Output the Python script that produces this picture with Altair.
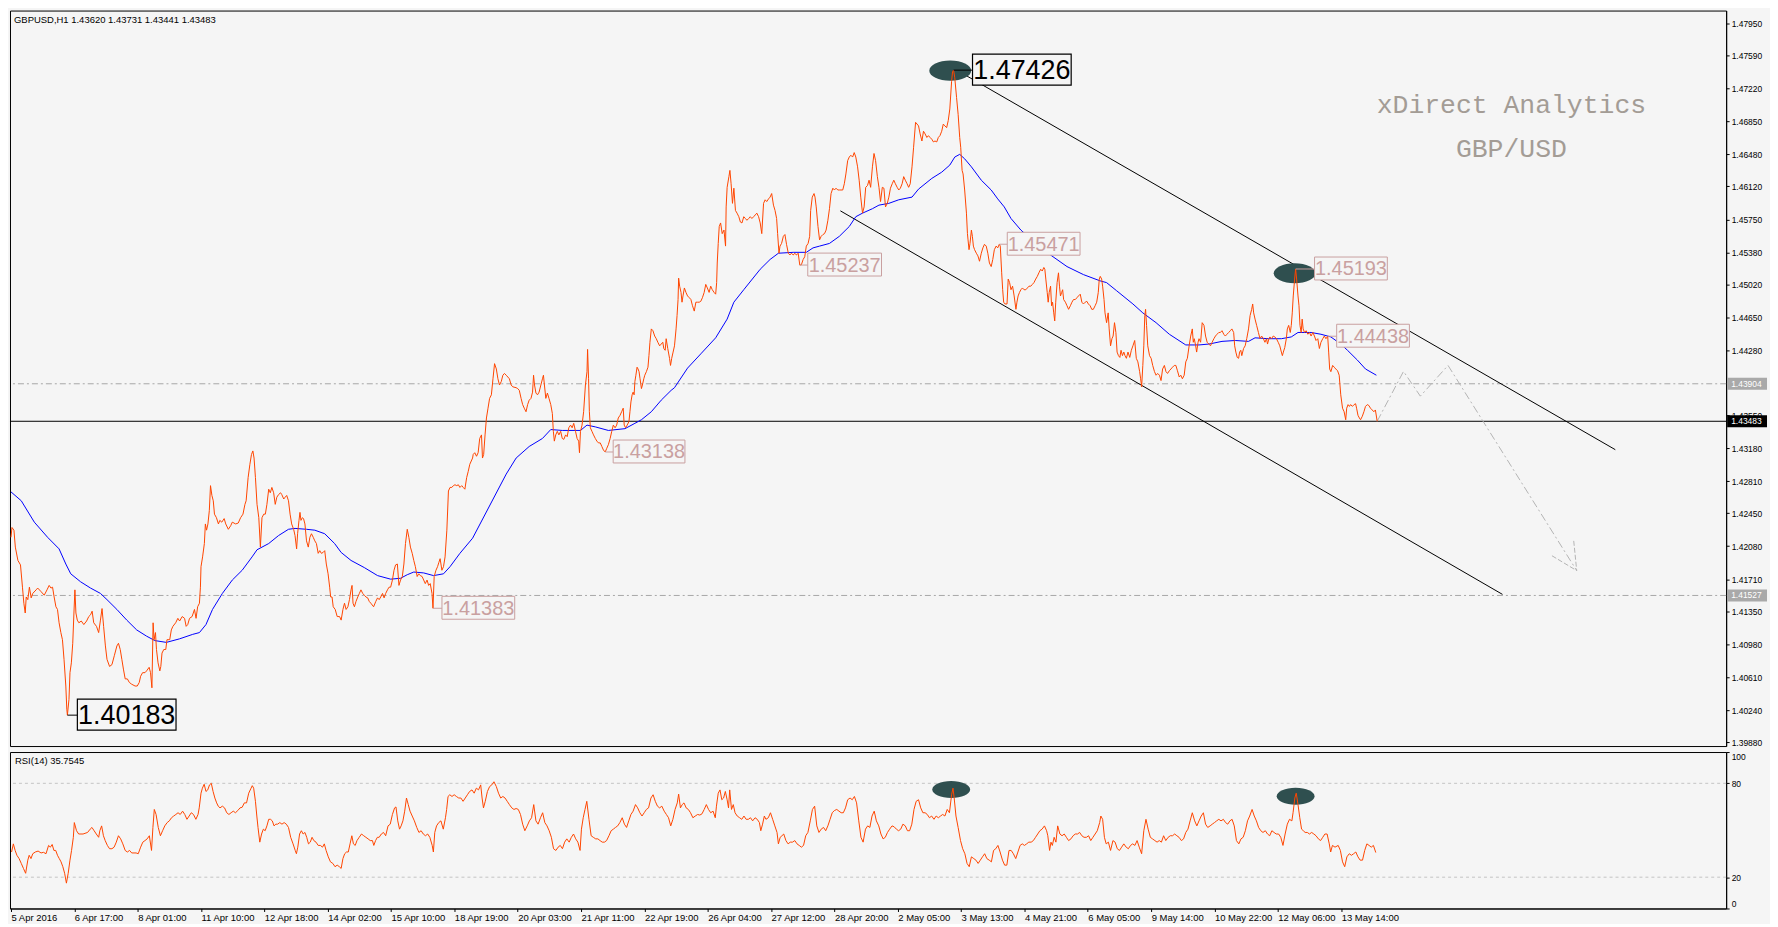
import json
import altair as alt
import pandas as pd

# ---------------- data (bar index = hourly bar number, price) ----------------
price_seg1 = [(-1,1.4218),(-0.5,1.4229),(0.5,1.4226),(1.2,1.4207),(2.5,1.4192),(3.8,1.4187),(4.8,1.4162),(5.5,1.4144),(6.2,1.4133),(6.7,1.4151),(7.5,1.4148),(8.3,1.4162),(9.2,1.4150),(10.0,1.4155),(11.7,1.4159),(12.5,1.4161),(14.2,1.4157),(15.8,1.4153),(17.2,1.4159),(18.3,1.4164),(19.2,1.4161),(20.0,1.4162),(20.8,1.4151),(21.7,1.4140),(22.5,1.4137),(23.3,1.4122),(24.2,1.4111),(25.0,1.4103),(25.8,1.4081),(26.7,1.4051),(27.2,1.4025),(27.5,1.40183),(28.3,1.4036),(28.8,1.4066),(29.5,1.4077),(30.2,1.4099),(30.8,1.4133),(31.3,1.4159),(31.8,1.4133),(32.5,1.4125),(33.3,1.4122),(34.5,1.4124),(35.8,1.4120),(37.2,1.4124),(38.3,1.4129),(39.2,1.4131),(40.0,1.4135),(40.8,1.4122),(42.2,1.4118),(43.3,1.4111),(44.2,1.4125),(45.0,1.4138),(45.8,1.4118),(46.7,1.4096),(47.5,1.4081),(48.8,1.4073),(50.0,1.4075),(51.2,1.4085),(52.5,1.4096),(53.3,1.4099),(54.2,1.4092),(55.0,1.4081),(55.8,1.4070),(56.7,1.4059),(57.8,1.4059),(58.8,1.4055),(60.0,1.4053),(61.7,1.4051),(62.8,1.4051),(63.8,1.4055),(64.5,1.4062),(65.5,1.4066),(66.7,1.4066),(67.5,1.4068),(68.8,1.4072),(69.5,1.4066),(70.2,1.4049),(70.8,1.4122),(71.3,1.4103),(72.0,1.4111),(72.5,1.4092),(73.3,1.4077),(74.2,1.4068),(74.7,1.4073),(75.3,1.4088),(76.2,1.4092),(77.2,1.4092),(77.8,1.4103),(79.2,1.4103),(80.0,1.4114),(80.8,1.4118),(82.2,1.4122),(83.3,1.4127),(84.2,1.4124),(85.5,1.4129),(86.7,1.4127),(87.5,1.4118),(88.3,1.4120),(89.2,1.4127),(90.5,1.4129),(91.7,1.4137),(92.5,1.4127),(93.3,1.4140),(94.2,1.4144),(94.7,1.4162),(95.0,1.4185),(95.8,1.4196),(96.7,1.4211),(97.2,1.4233),(97.8,1.4226),(98.5,1.4233),(99.2,1.4248),(99.8,1.4276),(100.5,1.4265),(101.2,1.4259),(101.8,1.4244),(102.8,1.4240),(103.8,1.4233),(104.5,1.4237),(105.5,1.4235),(106.7,1.4239),(107.5,1.4233),(108.8,1.4227),(110.0,1.4231),(110.8,1.4235),(112.5,1.4233),(113.8,1.4234),(115.0,1.4240),(116.2,1.4244),(117.2,1.4255),(117.8,1.4259),(118.8,1.4285),(119.7,1.4300),(120.5,1.4311),(121.2,1.4315),(121.8,1.4307),(122.5,1.4285),(123.3,1.4255),(124.2,1.4240),(125.0,1.4207),(125.8,1.4240),(126.7,1.4244),(127.5,1.4244),(128.3,1.4255),(129.2,1.4272),(130.0,1.4268),(130.8,1.4274),(131.7,1.4268),(132.5,1.4255),(133.3,1.4263),(134.2,1.4266),(135.2,1.4268),(135.8,1.4266),(136.8,1.4261),(137.5,1.4263),(138.3,1.4265),(139.2,1.4259),(140.0,1.4244),(140.8,1.4233),(141.8,1.4227),(142.5,1.4220),(143.3,1.4205),(143.8,1.4222),(144.5,1.4237),(145.0,1.4246),(145.5,1.4237),(146.2,1.4240),(146.8,1.4239),(147.5,1.4233),(148.3,1.4214),(149.2,1.4207),(150.0,1.4218),(150.8,1.4222),(151.7,1.4218),(152.5,1.4214),(153.3,1.4211),(154.2,1.4200),(155.0,1.4203),(155.8,1.4200),(156.7,1.4201),(157.5,1.4203),(158.3,1.4188),(159.2,1.4177),(160.0,1.4162),(160.5,1.4151),(161.2,1.4151),(161.8,1.4140),(162.8,1.4137),(163.8,1.4129),(165.0,1.4129),(165.8,1.4125),(166.7,1.4137),(167.5,1.4144),(168.3,1.4137),(169.2,1.4140),(170.0,1.4148),(170.8,1.4159),(171.3,1.4164),(171.8,1.4144),(172.5,1.4140),(173.3,1.4146),(174.2,1.4151),(175.0,1.4155),(175.8,1.4159),(176.7,1.4155),(177.5,1.4153),(178.3,1.4151),(179.2,1.4150),(180.0,1.4146),(180.8,1.4144),(182.2,1.4140),(183.3,1.4146),(184.2,1.4150),(185.0,1.4148),(185.8,1.4151),(186.7,1.4155),(187.5,1.4150),(188.3,1.4155),(189.2,1.4159),(190.0,1.4162),(190.8,1.4162),(191.7,1.4170),(192.5,1.4181),(193.3,1.4187),(194.2,1.4188),(195.0,1.4164),(195.8,1.4170),(196.7,1.4174),(197.5,1.4188),(198.3,1.4211),(199.2,1.4227),(200.0,1.4218),(200.8,1.4207),(201.7,1.4200),(202.5,1.4192),(203.3,1.4185),(204.2,1.4174),(205.0,1.4177),(205.8,1.4175),(206.7,1.4174),(207.5,1.4170),(208.3,1.4166),(209.2,1.4170),(210.0,1.4164),(210.8,1.4166),(211.7,1.4155),(212.2,1.41383),(212.8,1.4174),(213.7,1.4181),(214.5,1.4185),(215.2,1.4190),(215.8,1.4194),(216.7,1.4181),(217.5,1.4185),(218.3,1.4196),(219.2,1.4226),(220.0,1.4270),(220.8,1.4274),(221.7,1.4274),(222.5,1.4276),(223.3,1.4277),(224.2,1.4276),(225.0,1.4277),(225.8,1.4274),(226.7,1.4276),(227.5,1.4274),(228.3,1.4272),(229.2,1.4285),(230.0,1.4292),(230.8,1.4300),(232.2,1.4307)]

price_seg2 = [(232.5,1.4311),(233.3,1.4313),(234.2,1.4309),(235.0,1.4313),(235.8,1.4329),(236.7,1.4333),(237.2,1.4307),(237.8,1.4311),(238.5,1.4333),(239.2,1.4352),(240.0,1.4363),(240.8,1.4374),(241.7,1.4378),(242.5,1.4396),(243.3,1.4413),(244.2,1.4407),(245.0,1.4396),(245.8,1.4389),(246.7,1.4393),(247.5,1.4400),(248.3,1.4402),(249.2,1.4400),(250.0,1.4398),(250.8,1.4396),(251.7,1.4389),(252.5,1.4387),(254.2,1.4386),(255.0,1.4385),(255.8,1.4383),(256.7,1.4374),(257.5,1.4367),(258.3,1.4363),(259.2,1.4359),(260.0,1.4367),(260.8,1.4372),(261.7,1.4374),(262.5,1.4381),(263.0,1.4400),(263.5,1.4389),(264.2,1.4380),(265.0,1.4378),(265.8,1.4381),(266.7,1.4389),(267.5,1.4396),(268.0,1.4400),(268.5,1.4389),(269.2,1.4374),(270.0,1.4380),(270.8,1.4374),(271.7,1.4367),(272.5,1.4357),(273.0,1.4337),(273.5,1.4326),(274.2,1.4333),(275.0,1.4337),(275.8,1.4333),(276.7,1.4337),(277.5,1.4329),(278.3,1.4328),(279.2,1.4333),(280.0,1.4331),(280.8,1.4341),(281.7,1.4344),(282.5,1.4341),(283.3,1.4346),(284.2,1.4337),(285.0,1.4329),(285.8,1.4326),(286.2,1.4313),(286.7,1.4337),(287.5,1.4344),(288.3,1.4359),(289.2,1.4389),(290.0,1.4404),(290.3,1.4429),(290.8,1.4396),(291.2,1.4359),(291.7,1.4341),(292.5,1.4337),(293.3,1.4333),(294.2,1.4329),(295.0,1.4326),(295.8,1.4324),(296.7,1.4324),(297.5,1.4320),(298.3,1.4316),(299.2,1.43138),(300.0,1.4318),(300.8,1.4322),(301.7,1.4329),(302.5,1.4337),(303.3,1.4344),(304.2,1.4341),(305.0,1.4344),(305.8,1.4352),(306.7,1.4355),(307.5,1.4359),(308.3,1.4363),(308.8,1.4344),(309.5,1.4341),(310.3,1.4344),(311.2,1.4348),(311.7,1.4359),(312.2,1.4370),(312.8,1.4378),(313.3,1.4381),(313.8,1.4378),(314.2,1.4393),(314.7,1.4400),(315.3,1.4409),(315.8,1.4407),(316.3,1.4404),(316.8,1.4396),(317.5,1.4385),(318.0,1.4389),(318.7,1.4396),(319.2,1.4400),(320.0,1.4404),(320.8,1.4409),(321.3,1.4422),(321.8,1.4437),(322.5,1.4452),(323.3,1.4450),(324.2,1.4444),(325.0,1.4441),(325.8,1.4437),(326.7,1.4433),(327.5,1.4435),(328.3,1.4437),(328.8,1.4430),(329.5,1.4428),(330.0,1.4441),(330.8,1.4430),(331.7,1.4419),(332.2,1.4411),(332.8,1.4419),(333.5,1.4426),(334.2,1.4433),(335.0,1.4452),(335.5,1.4467),(336.0,1.4485),(336.3,1.4509),(336.8,1.4500),(337.5,1.4493),(338.0,1.4482),(338.5,1.4489),(339.2,1.4498),(340.0,1.4493),(340.8,1.4489),(341.7,1.4487),(342.5,1.4485),(343.3,1.4478),(344.2,1.4472),(345.0,1.4482),(345.8,1.4482),(346.7,1.4482),(347.5,1.4483),(348.3,1.4487),(349.2,1.4493),(350.0,1.4502),(350.8,1.4498),(351.7,1.4493),(352.5,1.4500),(353.3,1.4496),(354.2,1.4493),(355.0,1.4491),(355.5,1.4504),(355.8,1.4526),(356.3,1.4548),(356.8,1.4567),(357.5,1.4571),(358.3,1.4559),(359.2,1.4563),(360.0,1.4545),(360.3,1.4589),(360.8,1.4611),(361.7,1.4623),(362.2,1.4630),(362.8,1.4615),(363.5,1.4593),(364.2,1.4610),(365.0,1.4585),(365.8,1.4582),(366.7,1.4578),(367.5,1.4572),(368.3,1.4571),(369.2,1.4578),(370.0,1.4576),(370.8,1.4574),(371.7,1.4576),(372.5,1.4578),(373.3,1.4576),(374.2,1.4578),(375.0,1.4580),(375.8,1.4582),(376.7,1.4578),(377.5,1.4571),(378.3,1.4559),(379.2,1.4593),(380.0,1.4597),(380.8,1.4595),(381.7,1.4598),(382.5,1.4600),(383.3,1.4604),(384.2,1.4591),(385.0,1.4585),(385.8,1.4576),(386.3,1.4559),(387.0,1.4537),(387.5,1.4545),(388.3,1.4548),(389.2,1.4556),(390.0,1.4558),(390.8,1.4547),(391.7,1.4537),(392.5,1.4535),(393.3,1.4537),(394.2,1.4535),(395.0,1.4537),(395.8,1.4535),(396.7,1.4537),(397.5,1.45237),(398.3,1.4524),(399.2,1.4530),(400.0,1.4533),(400.8,1.4545),(401.7,1.4548),(402.5,1.4556),(403.0,1.4585),(403.8,1.4600),(404.7,1.4604),(405.2,1.4600),(405.8,1.4589),(406.7,1.4567),(407.5,1.4552),(408.3,1.4556),(409.2,1.4558),(410.0,1.4559),(410.8,1.4563),(411.7,1.4574),(412.5,1.4587),(413.3,1.4604),(414.2,1.4610),(415.0,1.4608),(415.8,1.4610),(416.7,1.4608),(417.5,1.4608),(418.3,1.4608),(419.2,1.4608),(420.0,1.4615),(420.8,1.4626),(421.7,1.4641),(422.5,1.4645),(423.3,1.4647),(424.2,1.4645),(425.0,1.4650),(425.8,1.4645),(426.7,1.4634),(427.5,1.4619),(428.3,1.4600),(429.2,1.4582),(430.0,1.4589),(430.8,1.4611),(431.7,1.4613),(432.5,1.4619),(433.3,1.4611),(434.2,1.4634),(435.0,1.4649),(435.8,1.4641),(436.7,1.4623),(437.5,1.4611),(438.3,1.4595),(439.2,1.4611),(440.0,1.4610),(440.8,1.4589),(441.7,1.4593),(442.5,1.4600),(443.3,1.4610),(444.2,1.4615),(445.0,1.4619),(445.8,1.4615),(446.7,1.4611),(447.5,1.4608),(448.3,1.4610),(449.2,1.4615),(450.0,1.4623),(450.8,1.4619),(451.7,1.4615),(452.5,1.4611),(453.3,1.4615),(454.2,1.4634),(455.0,1.4656),(456.0,1.4684)]

price_seg3 = [(457.5,1.4680),(458.3,1.4671),(459.2,1.4663),(460.0,1.4674),(460.8,1.4671),(461.7,1.4667),(462.5,1.4669),(463.3,1.4667),(464.2,1.4665),(465.0,1.4662),(465.8,1.4663),(466.7,1.4662),(467.5,1.4667),(468.3,1.4669),(469.2,1.4674),(470.0,1.4682),(470.8,1.4680),(471.7,1.4678),(472.5,1.4686),(473.3,1.4699),(474.2,1.4730),(474.7,1.4741),(475.2,1.47426),(475.8,1.4734),(476.7,1.4712),(477.5,1.4693),(478.3,1.4667),(478.8,1.4656),(479.5,1.4630),(480.0,1.4626),(480.8,1.4608),(481.7,1.4582),(482.2,1.4559),(482.5,1.4552),(483.0,1.4541),(483.5,1.4548),(484.2,1.4563),(484.7,1.4556),(485.2,1.4545),(485.8,1.4541),(486.7,1.4537),(487.5,1.4534),(488.3,1.4528),(489.2,1.4537),(490.0,1.4543),(490.8,1.4547),(491.7,1.4545),(492.5,1.4537),(493.3,1.4526),(494.2,1.4522),(495.0,1.4530),(495.8,1.4541),(496.7,1.4545),(497.5,1.4543),(498.3,1.45471),(498.8,1.4545),(499.5,1.4515),(500.0,1.4496),(500.5,1.4482),(501.2,1.4480),(502.2,1.4480),(502.8,1.4508),(503.5,1.4504),(504.2,1.4496),(505.0,1.4500),(505.8,1.4489),(506.7,1.4474),(507.2,1.4482),(507.8,1.4489),(508.5,1.4493),(509.2,1.4496),(510.0,1.4498),(510.8,1.4496),(511.7,1.4496),(512.5,1.4498),(513.3,1.4500),(514.2,1.4500),(515.0,1.4502),(515.8,1.4504),(516.7,1.4508),(517.5,1.4511),(518.3,1.4515),(519.2,1.4519),(520.0,1.4517),(520.8,1.4521),(521.3,1.4519),(521.8,1.4508),(522.5,1.4493),(523.0,1.4482),(523.5,1.4493),(524.2,1.4500),(524.7,1.4478),(525.2,1.4482),(525.8,1.4470),(526.3,1.4461),(526.8,1.4482),(527.5,1.4504),(528.2,1.4515),(528.7,1.4500),(529.2,1.4489),(529.8,1.4493),(530.3,1.4496),(530.8,1.4485),(531.7,1.4482),(532.5,1.4478),(533.3,1.4474),(534.2,1.4478),(535.0,1.4482),(535.8,1.4485),(536.7,1.4485),(537.5,1.4487),(538.3,1.4489),(539.2,1.4491),(540.0,1.4482),(540.8,1.4480),(541.7,1.4482),(542.5,1.4483),(543.3,1.4480),(544.2,1.4478),(545.0,1.4474),(545.8,1.4474),(546.7,1.4478),(547.5,1.4482),(548.3,1.4493),(548.8,1.4508),(549.3,1.4511),(550.0,1.4508),(550.5,1.4500),(551.2,1.4485),(551.7,1.4470),(552.5,1.4459),(553.3,1.4470),(553.8,1.4452),(554.5,1.4433),(555.2,1.4441),(555.8,1.4444),(556.5,1.4459),(557.2,1.4448),(557.8,1.4426),(558.5,1.4422),(559.2,1.4420),(559.8,1.4428),(560.5,1.4422),(561.2,1.4426),(561.8,1.4422),(562.5,1.4419),(563.3,1.4426),(564.2,1.4420),(565.0,1.4428),(565.8,1.4433),(566.7,1.4439),(567.5,1.4419),(568.3,1.4415),(569.2,1.4404),(569.7,1.4396),(570.2,1.4387),(570.8,1.4411),(571.3,1.4433),(571.8,1.4467),(572.2,1.4474),(572.7,1.4456),(573.3,1.4433),(574.2,1.4422),(575.0,1.4419),(575.8,1.4411),(576.7,1.4404),(577.5,1.4400),(578.3,1.4402),(579.2,1.4400),(580.0,1.4394),(580.8,1.4407),(581.7,1.4411),(582.5,1.4404),(583.3,1.4402),(584.2,1.4405),(585.0,1.4407),(585.8,1.4409),(586.7,1.4411),(587.5,1.4411),(588.3,1.4405),(589.2,1.4398),(590.0,1.4400),(590.8,1.4396),(591.7,1.4400),(592.5,1.4415),(593.3,1.4419),(594.2,1.4433),(595.0,1.4444),(595.8,1.4452),(596.3,1.4437),(596.8,1.4441),(597.5,1.4433),(598.0,1.4426),(598.7,1.4437),(599.2,1.4441),(600.0,1.4437),(600.8,1.4459),(601.7,1.4456),(602.5,1.4444),(603.3,1.4437),(604.2,1.4435),(605.0,1.4433),(605.8,1.4437),(606.7,1.4441),(607.5,1.4444),(608.3,1.4446),(609.2,1.4448),(610.0,1.4448),(610.8,1.4450),(611.7,1.4446),(612.5,1.4444),(613.3,1.4446),(614.2,1.4448),(615.0,1.4450),(615.8,1.4452),(616.7,1.4448),(617.2,1.4433),(617.8,1.4426),(618.5,1.4420),(619.2,1.4419),(619.7,1.4426),(620.3,1.4428),(620.8,1.4422),(621.7,1.4430),(622.5,1.4433),(623.3,1.4441),(624.2,1.4452),(625.0,1.4467),(625.8,1.4474),(626.3,1.4480),(626.8,1.4470),(627.5,1.4463),(628.3,1.4456),(629.2,1.4448),(630.0,1.4441),(630.8,1.4444),(631.7,1.4441),(632.5,1.4437),(633.3,1.4441),(633.8,1.4435),(634.5,1.4441),(635.0,1.4443),(635.8,1.4441),(636.7,1.4444),(637.5,1.4443),(638.3,1.4441),(639.2,1.4437),(640.0,1.4433),(640.8,1.4426),(641.3,1.4422),(641.8,1.4426),(642.5,1.4431),(643.3,1.4441),(643.8,1.4452),(644.5,1.4456),(645.3,1.4448),(645.8,1.4456),(646.3,1.4470),(646.8,1.4489),(647.5,1.4508),(648.0,1.45193),(648.5,1.4508),(649.2,1.4489),(649.7,1.4478),(650.2,1.4456),(650.8,1.4448),(651.3,1.4463),(651.8,1.4452),(652.5,1.4448),(653.3,1.4450),(654.2,1.4446),(655.0,1.4448),(655.8,1.4444),(656.7,1.4448),(657.5,1.4444),(658.3,1.4439),(659.2,1.4441),(660.0,1.4430),(660.8,1.4437),(661.7,1.4441),(662.5,1.4444),(663.3,1.4441),(664.2,1.44438),(664.7,1.4426),(665.2,1.4407),(665.8,1.4404),(666.7,1.4411),(667.5,1.4409),(668.3,1.4407),(669.2,1.4405),(670.0,1.4400),(670.8,1.4378),(671.7,1.4363),(672.5,1.4359),(673.3,1.4350),(673.8,1.4363),(674.5,1.4367),(675.2,1.4365),(675.8,1.4367),(676.7,1.4365),(677.5,1.4367),(678.3,1.4368),(678.8,1.4363),(679.5,1.4355),(680.2,1.4352),(680.8,1.4350),(681.7,1.4354),(682.5,1.4359),(683.3,1.4365),(684.2,1.4367),(685.0,1.4366),(685.8,1.4363),(686.7,1.4361),(687.5,1.4359),(688.3,1.4361),(689.2,1.43483)]

ma_points = [(-1,1.4269),(4.2,1.4259),(10.8,1.4235),(17.5,1.4218),(23.3,1.4205),(26.7,1.4188),(29.2,1.4177),(34.2,1.4168),(39.2,1.4161),(44.2,1.4155),(47.5,1.4148),(52.5,1.4137),(57.5,1.4125),(62.5,1.4114),(67.5,1.4107),(71.7,1.4102),(77.5,1.4100),(84.2,1.4104),(90.8,1.4109),(94.2,1.4111),(97.5,1.4120),(100.8,1.4137),(105.8,1.4155),(110.8,1.4170),(115.8,1.4181),(120.8,1.4196),(123.3,1.4204),(129.2,1.4211),(134.2,1.4220),(139.2,1.4227),(142.5,1.4228),(148.3,1.4227),(152.5,1.4226),(157.5,1.4222),(162.5,1.4211),(165.8,1.4201),(170.8,1.4192),(177.5,1.4184),(184.2,1.4175),(190.8,1.4171),(195.8,1.4172),(199.2,1.4176),(202.5,1.4179),(207.5,1.4178),(212.5,1.4175),(217.5,1.4177),(220.8,1.4185),(225.8,1.4200),(232.2,1.4217),(249.2,1.4289),(254.2,1.4307),(260.8,1.4320),(267.5,1.4329),(271.7,1.4339),(277.5,1.4338),(286.7,1.4338),(290.0,1.4344),(294.2,1.4342),(300.8,1.4338),(309.2,1.4340),(314.2,1.4346),(317.5,1.4350),(322.5,1.4359),(327.5,1.4372),(332.5,1.4383),(334.2,1.4386),(340.8,1.4408),(347.5,1.4424),(355.0,1.4442),(360.8,1.4463),(364.2,1.4482),(369.2,1.4496),(377.5,1.4519),(382.5,1.4530),(386.7,1.4537),(394.2,1.4538),(400.8,1.4538),(404.2,1.4543),(407.5,1.4545),(412.5,1.4548),(417.5,1.4556),(422.5,1.4567),(425.8,1.4578),(429.2,1.4582),(434.2,1.4587),(437.5,1.4591),(442.5,1.4593),(447.5,1.4597),(454.2,1.4600),(457.5,1.4609),(464.2,1.4621),(469.2,1.4628),(473.3,1.4636),(475.8,1.4645),(478.3,1.4648),(480.8,1.4643),(484.2,1.4634),(489.2,1.4619),(494.2,1.4608),(497.5,1.4598),(500.8,1.4589),(504.2,1.4576),(509.2,1.4563),(515.8,1.4550),(524.2,1.4535),(532.5,1.4522),(540.8,1.4513),(549.2,1.4506),(552.5,1.4504),(557.5,1.4495),(565.8,1.4480),(570.8,1.4470),(577.5,1.4459),(584.2,1.4446),(592.5,1.4434),(599.2,1.4434),(604.2,1.4435),(610.8,1.4438),(617.5,1.4439),(624.2,1.4438),(627.5,1.4442),(634.2,1.4441),(640.8,1.4441),(645.8,1.4443),(649.2,1.4448),(655.8,1.4448),(660.8,1.4446),(665.8,1.4443),(670.8,1.4435),(674.2,1.4428),(679.2,1.4417),(683.3,1.4407),(688.8,1.4400)]

rsi_seg1 = [(-0.7,36.1),(0.2,41.3),(1.1,37.1),(2.0,34.0),(3.1,31.9),(4.2,28.8),(5.3,25.6),(6.4,22.5),(7.5,30.9),(8.2,34.0),(9.1,31.9),(10.0,35.0),(11.3,36.1),(12.7,36.7),(14.2,35.5),(15.4,35.9),(16.7,35.0),(18.0,40.3),(18.9,39.2),(19.8,40.9),(20.7,37.1),(21.6,37.1),(22.5,34.0),(23.4,31.9),(24.3,29.8),(25.2,26.7),(26.1,22.5),(27.0,16.2),(27.9,22.5),(28.8,30.9),(29.6,37.1),(30.5,45.5),(31.0,54.9),(32.1,49.7),(33.2,47.6),(35.4,47.6),(37.7,48.6),(39.0,50.7),(39.9,51.8),(41.0,49.7),(42.1,47.6),(43.3,45.5),(43.9,49.7),(44.8,52.8),(45.7,46.5),(46.6,43.4),(47.7,40.3),(48.8,38.2),(50.0,38.2),(51.1,39.2),(52.2,42.4),(53.3,46.5),(54.4,44.5),(55.5,41.3),(56.7,37.1),(57.8,36.1),(58.9,37.1),(60.0,35.5),(62.2,35.5),(63.3,35.0),(64.5,39.2),(65.6,42.4),(66.7,43.4),(67.8,44.5),(68.9,46.5),(70.0,37.1),(70.7,51.8),(71.4,63.3),(72.3,60.1),(73.4,51.8),(74.5,46.5),(75.6,49.7),(76.7,52.8),(77.9,54.9),(79.0,56.0),(80.1,58.0),(81.2,59.1),(82.3,60.1),(83.4,61.2),(84.5,60.1),(85.7,62.2),(86.8,60.1),(87.9,57.0),(89.0,59.1),(90.1,61.2),(91.2,60.1),(92.4,57.0),(93.5,60.1),(94.1,64.3),(95.0,73.7),(95.7,76.9),(96.6,79.4),(97.5,74.8),(98.4,75.8),(99.3,79.0),(100.2,80.0),(101.1,74.8),(102.0,70.6),(102.9,67.5),(103.7,65.4),(104.6,64.3),(105.8,65.4),(106.9,64.3),(108.0,61.2),(109.1,60.1),(110.2,61.2),(111.3,62.2),(112.4,61.2),(113.6,62.6),(114.7,64.3),(115.8,64.7),(116.9,67.5),(118.0,67.5),(119.1,73.7),(120.3,76.9),(120.9,78.5),(121.6,76.9),(122.5,68.5),(123.2,59.1),(123.8,51.8),(124.7,42.4),(125.6,47.6),(126.5,50.7),(127.4,49.7),(128.3,52.8),(129.2,57.0),(130.1,57.0),(131.0,56.0),(131.9,52.8),(132.8,53.9),(133.7,53.9),(134.8,54.9),(135.9,53.9),(137.0,54.9),(138.1,53.9),(139.2,51.8),(140.3,45.5),(141.5,41.3),(142.6,37.1),(143.2,35.0),(143.9,39.2),(144.8,47.6),(145.7,49.7),(146.6,47.6),(147.5,48.6),(148.4,45.5),(149.3,41.3),(150.2,42.4),(151.1,45.5),(152.0,43.4),(153.1,42.4),(154.2,40.3),(155.3,40.3),(156.4,39.2),(157.3,41.3),(158.2,37.1),(159.3,33.0),(160.4,29.8),(161.6,28.8),(162.7,26.7),(163.8,27.7),(164.9,26.7),(165.8,25.6),(166.7,31.9),(167.6,35.0),(168.5,36.1),(169.4,36.1),(170.3,41.3),(171.2,46.5),(172.0,41.3),(172.9,40.3),(173.8,43.4),(174.9,45.5),(176.1,47.6),(177.2,46.5),(178.3,45.5),(179.4,44.5),(180.5,43.4),(181.6,43.4),(182.3,40.3),(183.2,43.4),(184.1,45.5),(185.0,45.5),(186.1,47.6),(187.2,48.6),(188.3,46.5),(189.5,52.8),(190.6,53.9),(191.7,60.1),(192.8,64.3),(193.5,64.9),(194.4,56.0),(195.3,50.7),(196.1,52.8),(197.0,56.0),(197.9,62.2),(198.8,70.6),(199.7,66.4),(200.6,62.2),(201.7,59.1),(202.8,56.0),(204.0,51.8),(205.1,48.6),(206.2,49.7),(207.3,47.6),(208.4,46.5),(209.5,47.6),(210.6,45.5),(211.8,40.3),(212.4,36.1),(213.1,48.6),(214.0,52.8),(215.1,54.9),(216.2,56.0),(217.4,50.7),(218.5,58.0),(219.1,63.3),(219.8,71.6),(220.7,72.7),(221.8,71.6),(222.9,72.7),(224.0,71.6),(225.2,70.6),(226.3,70.6),(227.4,68.5),(228.5,70.6),(229.6,72.7),(230.7,74.8),(231.9,75.8),(233.0,73.7),(234.1,76.9),(235.2,75.8),(236.3,79.0),(237.0,70.6),(237.7,64.3),(238.6,68.5),(239.7,74.8),(240.8,77.9),(241.9,79.0),(243.0,81.0),(244.2,77.9),(245.3,73.7),(246.4,70.6),(247.5,71.6),(248.6,70.6),(249.7,68.5),(250.8,66.4),(252.0,64.3),(253.1,63.3),(254.2,63.9),(255.3,63.3),(256.4,60.1),(257.5,53.9),(258.6,49.7),(259.8,52.8),(260.9,56.0),(262.0,58.0),(263.1,66.4),(264.2,56.0),(265.3,53.9),(266.5,58.0),(267.6,61.2),(268.7,54.9),(269.8,52.8),(270.9,49.7),(272.0,45.5),(273.1,38.2),(274.3,37.1),(275.4,39.2),(276.5,40.3),(277.6,38.2),(278.7,42.4),(279.8,44.5),(281.0,42.4),(282.1,45.5),(283.2,47.6),(284.3,44.5),(285.4,42.4),(286.5,37.1),(287.2,50.7),(288.1,58.0),(289.0,63.3),(289.9,68.5),(291.0,57.0),(292.1,46.5),(293.2,45.5),(294.4,44.5),(295.5,44.5),(296.6,43.4),(297.7,42.4),(298.8,42.4),(299.9,43.4),(301.1,46.5),(302.2,49.7),(303.3,50.7),(304.4,51.8),(305.5,52.8),(306.6,54.9),(307.8,58.0),(308.9,53.9),(310.0,51.8),(311.1,56.0),(312.2,60.1),(313.3,62.2),(314.5,66.4),(315.6,64.3),(316.7,61.2),(317.8,59.1),(318.9,61.2),(320.0,63.3),(321.1,64.3),(322.3,70.6),(323.4,72.7),(324.5,68.5),(325.6,65.4),(326.7,64.3),(327.8,65.4),(329.0,62.2),(330.1,60.1),(331.2,58.0),(332.3,52.8),(333.4,57.0),(334.5,63.3),(335.6,67.5),(336.3,73.1),(337.2,64.3),(338.1,66.4),(339.0,67.5),(340.1,64.3),(341.2,63.3),(342.3,61.2),(343.5,58.0)]

rsi_seg2 = [(344.7,59.1),(345.9,60.1),(347.0,59.7),(348.1,60.5),(349.2,63.3),(350.3,66.4),(351.4,63.3),(352.5,61.2),(353.7,62.2),(354.8,58.0),(355.4,65.4),(356.3,73.7),(357.2,75.8),(358.1,69.5),(359.0,70.6),(359.9,74.8),(360.8,69.5),(361.5,64.3),(362.1,75.8),(363.0,63.3),(363.9,66.4),(364.8,61.2),(365.9,59.1),(367.1,58.0),(368.2,57.0),(369.3,59.1),(370.4,57.0),(371.5,57.0),(372.6,58.0),(373.7,56.0),(374.9,58.0),(376.0,57.0),(377.1,54.9),(377.8,49.7),(378.7,53.9),(379.6,59.1),(380.4,57.0),(381.6,58.0),(382.7,61.2),(383.8,57.0),(384.9,52.8),(386.0,48.6),(386.7,41.3),(387.6,45.5),(388.5,46.5),(389.4,47.6),(390.5,43.4),(391.6,41.3),(392.7,42.4),(393.8,42.4),(395.0,43.4),(396.1,41.3),(397.2,40.3),(398.3,39.2),(399.4,40.3),(400.5,46.5),(401.6,48.6),(402.8,56.0),(403.9,63.3),(405.0,65.4),(406.1,52.8),(407.2,48.6),(408.3,50.7),(409.5,51.8),(410.6,49.7),(411.7,52.8),(412.8,57.0),(413.9,61.2),(415.0,62.6),(416.2,63.3),(417.3,62.2),(418.4,61.2),(419.5,61.2),(420.6,64.3),(421.7,69.5),(422.9,70.6),(424.0,69.5),(425.1,71.6),(426.2,67.5),(427.3,56.0),(428.4,45.5),(429.5,42.4),(430.7,50.7),(431.8,52.8),(432.9,51.8),(434.0,59.1),(435.1,62.2),(436.2,56.0),(437.4,52.8),(438.5,47.6),(439.6,44.5),(440.7,45.5),(441.8,48.6),(442.9,50.7),(444.1,52.8),(445.2,52.2),(446.3,50.7),(447.4,49.7),(448.5,50.7),(449.6,53.9),(450.8,52.8),(451.9,49.7),(453.0,49.7),(454.1,53.9),(455.2,63.3),(456.3,68.5),(457.5,69.5),(458.6,64.3),(459.7,61.2),(460.8,61.2),(461.9,60.1),(463.0,58.0),(464.1,59.1),(465.3,57.0),(466.4,59.1),(467.5,58.0),(468.6,59.1),(469.7,60.1),(470.8,59.1),(472.0,63.3),(473.1,61.2),(474.2,72.7),(474.9,76.9),(475.5,70.6),(476.4,59.1),(477.5,51.8),(478.7,43.4),(479.8,38.2),(480.9,35.0),(482.0,28.8),(483.1,26.7),(484.2,33.0),(485.4,31.9),(486.5,30.9),(487.6,28.8),(488.7,30.9),(489.8,33.0),(490.9,35.0),(492.0,31.9),(493.2,30.9),(494.3,29.8),(495.4,37.1),(496.5,38.2),(497.6,40.3),(498.7,36.1),(499.9,30.9),(501.0,27.7),(502.1,27.7),(503.2,37.1),(504.3,37.1),(505.4,35.0),(506.6,31.9),(507.7,36.1),(508.8,40.3),(509.9,41.3),(511.0,40.3),(512.1,41.3),(513.2,42.4),(514.4,42.4),(515.5,43.4),(516.6,45.5),(517.7,47.6),(518.8,49.7),(519.9,50.7),(521.1,52.8),(522.2,49.7),(522.8,46.5),(523.7,37.1),(524.4,42.4),(525.1,40.3),(526.0,45.5),(526.9,42.4),(527.8,52.8),(528.9,47.6),(530.0,46.5),(531.1,47.6),(532.2,45.5),(533.3,43.4),(534.5,44.5),(535.6,46.5),(536.7,47.6),(537.8,47.6),(538.9,48.6),(540.0,46.5),(541.1,45.5),(542.3,45.5),(543.4,46.5),(544.5,43.4),(545.6,45.5),(546.7,47.6),(547.8,49.7),(549.0,54.9),(549.6,59.1),(550.5,57.0),(551.4,45.5),(552.3,41.3),(553.4,42.4),(554.5,37.1),(555.7,43.4),(556.8,42.4),(557.9,38.2),(559.0,37.1),(560.1,39.2),(561.2,41.3),(562.4,39.2),(563.5,38.2),(564.6,40.3),(565.7,41.3),(566.8,40.3),(567.9,43.4),(569.0,39.2),(570.2,35.0),(571.3,49.7),(572.4,57.0),(573.5,50.7),(574.6,45.5),(575.7,44.5),(576.9,43.4),(578.0,42.4),(579.1,43.4),(580.2,42.4),(581.3,46.5),(582.4,43.4),(583.6,45.5),(584.7,46.5),(585.8,46.5),(586.9,47.6),(588.0,46.5),(589.1,45.5),(590.3,43.4),(591.4,44.5),(592.5,48.6),(593.6,50.7),(594.7,56.0),(595.8,61.2),(597.0,56.0),(598.1,52.8),(599.2,56.0),(600.3,59.1),(601.4,61.2),(602.5,53.9),(603.6,51.8),(604.8,52.8),(605.9,53.9),(607.0,54.9),(608.1,56.0),(609.2,57.0),(610.3,56.0),(611.5,57.0),(612.6,54.9),(613.7,53.9),(614.8,56.0),(615.9,57.0),(617.0,52.8),(618.1,43.4),(619.3,41.3),(620.4,44.5),(621.5,45.5),(622.6,49.7),(623.7,56.0),(624.8,59.1),(626.0,63.3),(627.1,59.1),(628.2,56.0),(629.3,51.8),(630.4,49.7),(631.5,48.6),(632.7,49.7),(633.8,47.6),(634.9,46.5),(636.0,49.7),(637.1,48.6),(638.2,47.6),(639.4,47.6),(640.5,45.5),(641.6,40.3),(642.7,47.6),(643.8,53.9),(644.9,57.0),(646.1,56.0),(646.7,61.2),(647.6,70.6),(648.3,73.7),(649.2,66.4),(650.1,58.0),(651.0,50.7),(651.9,49.7),(652.8,48.6),(653.9,48.6),(655.0,47.6),(656.1,48.6),(657.2,47.6),(658.3,46.5),(659.5,44.5),(660.6,43.4),(661.7,45.5),(662.8,47.6),(663.9,47.6),(665.0,41.3),(665.7,36.1),(666.6,40.3),(667.9,39.2),(669.5,40.3),(670.6,37.1),(671.7,29.8),(672.8,26.7),(673.9,33.0),(675.1,35.0),(676.2,34.0),(677.3,35.0),(678.4,36.1),(679.5,33.0),(680.6,30.9),(681.8,30.9),(682.9,37.1),(684.0,41.3),(685.1,40.3),(686.2,39.2),(687.3,40.3),(688.5,35.75)]

price_ticks = [1.4795,1.4759,1.4722,1.4685,1.4648,1.4612,1.4575,1.4538,1.4502,1.4465,1.4428,1.4355,1.4318,1.4281,1.4245,1.4208,1.4171,1.4135,1.4098,1.4061,1.4024,1.3988]
time_labels = ['5 Apr 2016','6 Apr 17:00','8 Apr 01:00','11 Apr 10:00','12 Apr 18:00','14 Apr 02:00','15 Apr 10:00','18 Apr 19:00','20 Apr 03:00','21 Apr 11:00','22 Apr 19:00','26 Apr 04:00','27 Apr 12:00','28 Apr 20:00','2 May 05:00','3 May 13:00','4 May 21:00','6 May 05:00','9 May 14:00','10 May 22:00','12 May 06:00','13 May 14:00']
time_tick_bars = [-1,31,63,95,127,159,191,223,255,287,319,351,383,415,447,479,511,543,575,607,639,671]
rsi_ticks = [0, 20, 80, 100]
rsi_levels = [20, 80]

close_price = 1.43483
level_prices = [1.43904, 1.41527]
channel_bar1 = [475.0, 418.0]
channel_price1 = [1.47449, 1.45846]
channel_bar2 = [809.5, 752.5]
channel_price2 = [1.43164, 1.41539]
proj_bars = [689.2, 702.5, 711.0, 725.0, 790.0]
proj_prices = [1.43483, 1.44043, 1.43765, 1.44110, 1.41806]
arrow_bars = [777.5, 788.5]
arrow_prices = [1.41973, 1.42140]
peak_bars = [473.5, 647.5]
peak_prices = [1.47420, 1.45145]
rsi_peak_bars = [474.0, 648.0]
rsi_peak_values = [76.1, 71.7]

label_bars = [475.2, 27.5, 212.2, 299.2, 397.5, 498.3, 648.0, 664.2]
label_values = [1.47426, 1.40183, 1.41383, 1.43138, 1.45237, 1.45471, 1.45193, 1.44438]
label_kinds = ["big", "big", "pink", "pink", "pink", "pink", "pink", "pink"]

header_text = "GBPUSD,H1  1.43620 1.43731 1.43441 1.43483"
rsi_text = "RSI(14) 35.7545"
watermark_lines = ["xDirect Analytics", "GBP/USD"]
watermark_bar = [757.0, 757.0]
watermark_price = [1.47032, 1.46536]

# ---------------- layout / style ----------------
W, H1, H2 = 1722, 738, 157
BG = "#f5f5f5"
ORANGE = "#ff4500"
PINK = "#c9a0a0"
FONT = "Liberation Sans"
label_xoff = [(19, 118), (10, 109), (9, 82), (8, 80), (8, 82), (8, 81), (19, 92), (9, 82)]
label_style = {"big": dict(size=27, color="black", stroke="black", yoff=(-16, 15), sw=1.2),
               "pink": dict(size=20, color=PINK, stroke=PINK, yoff=(-12, 11), sw=1)}

xs = alt.Scale(domain=[-1.5, 865.5], nice=False, zero=False)
ys = alt.Scale(domain=[1.39836, 1.48095], nice=False, zero=False)
price_axis = alt.Axis(orient="right", values=price_ticks, format=".5f", title=None,
                      tickSize=3, labelPadding=2, labelFontSize=8.5, grid=False)
X = alt.X("bar:Q", scale=xs, axis=None)
Y = alt.Y("price:Q", scale=ys, axis=price_axis)


def pts(pairs, ycol="price"):
    return pd.DataFrame(pairs, columns=["bar", ycol])


price_df = pts(price_seg1 + price_seg2 + price_seg3)
ma_df = pts(ma_points)
rsi_df = pts(rsi_seg1 + rsi_seg2, "rsi")

layers = []
layers.append(alt.Chart(pd.DataFrame({"price": level_prices})).mark_rule(
    color="#a8a8a8", strokeWidth=1, strokeDash=[6, 3, 2, 3]).encode(y=Y))
layers.append(alt.Chart(pd.DataFrame({"price": [close_price]})).mark_rule(
    color="black", strokeWidth=1).encode(y=Y))
chan_df = pd.DataFrame({"bar": channel_bar1, "price": channel_price1,
                        "bar2": channel_bar2, "price2": channel_price2})
layers.append(alt.Chart(chan_df).mark_rule(color="black", strokeWidth=1).encode(
    x=X, y=Y, x2="bar2:Q", y2="price2:Q"))
layers.append(alt.Chart(pd.DataFrame({"bar": proj_bars, "price": proj_prices})).mark_line(
    color="#b4b4b4", strokeWidth=1, strokeDash=[8, 3, 2, 3]).encode(x=X, y=Y))
arrow_df = pd.DataFrame({"bar": arrow_bars, "price": arrow_prices,
                         "bar2": [proj_bars[-1]] * 2, "price2": [proj_prices[-1]] * 2})
layers.append(alt.Chart(arrow_df).mark_rule(color="#b4b4b4", strokeWidth=1, strokeDash=[5, 2]).encode(
    x=X, y=Y, x2="bar2:Q", y2="price2:Q"))
ELL = "M -1 0 A 1 0.48 0 1 0 1 0 A 1 0.48 0 1 0 -1 0 Z"
layers.append(alt.Chart(pd.DataFrame({"bar": peak_bars, "price": peak_prices})).mark_point(
    shape=ELL, size=1764, filled=True, color="#2f4f4f", opacity=1, strokeWidth=0).encode(x=X, y=Y))
layers.append(alt.Chart(ma_df).mark_line(color="#0000ff", strokeWidth=1).encode(x=X, y=Y))
layers.append(alt.Chart(price_df).mark_line(color=ORANGE, strokeWidth=1).encode(x=X, y=Y))

for b, v, k, (xa, xb) in zip(label_bars, label_values, label_kinds, label_xoff):
    st = label_style[k]
    d = pd.DataFrame({"bar": [b], "price": [v], "t": [f"{v:.5f}"]})
    ya, yb = st["yoff"]
    base = alt.Chart(d)
    layers.append(base.mark_rule(color=st["stroke"], strokeWidth=1, x2Offset=xa).encode(
        x=X, x2="bar:Q", y=Y))
    layers.append(base.mark_rect(fill=BG, stroke=st["stroke"], strokeWidth=st["sw"],
                                 xOffset=xa, x2Offset=xb, yOffset=ya, y2Offset=yb).encode(
        x=X, x2="bar:Q", y=Y, y2="price:Q"))
    layers.append(base.mark_text(font=FONT, fontSize=st["size"], color=st["color"],
                                 align="center", baseline="middle",
                                 dx=(xa + xb) / 2, dy=(ya + yb) / 2 + 1).encode(
        x=X, y=Y, text="t:N"))

wm = pd.DataFrame({"bar": watermark_bar, "price": watermark_price, "t": watermark_lines})
layers.append(alt.Chart(wm).mark_text(font="Liberation Mono", fontSize=26.5, color="#a39c95",
                                      align="center", baseline="middle").encode(x=X, y=Y, text="t:N"))
layers.append(alt.Chart(pd.DataFrame({"t": [header_text]})).mark_text(
    font=FONT, fontSize=9.5, color="black", align="left", baseline="middle").encode(
    x=alt.value(4), y=alt.value(9), text="t:N"))
axbox = pd.DataFrame({"price": [level_prices[0], level_prices[1], close_price],
                      "t": [f"{level_prices[0]:.5f}", f"{level_prices[1]:.5f}", f"{close_price:.5f}"],
                      "c": ["#a9a9a9", "#a9a9a9", "#000000"]})
layers.append(alt.Chart(axbox).mark_rect(yOffset=-6, y2Offset=6).encode(
    x=alt.value(W + 1), x2=alt.value(W + 41), y=Y, y2="price:Q",
    color=alt.Color("c:N", scale=None)))
layers.append(alt.Chart(axbox).mark_text(font=FONT, fontSize=8.5, color="white", align="left",
                                         baseline="middle").encode(
    x=alt.value(W + 5), y=Y, text="t:N"))

main = alt.layer(*layers).properties(width=W, height=H1)

rs = alt.Scale(domain=[0, 100], nice=False, zero=False)
rsi_axis = alt.Axis(orient="right", values=rsi_ticks, labelFlush=True, title=None, tickSize=3,
                    labelPadding=2, labelFontSize=8.5, grid=False)
label_expr = json.dumps(time_labels) + "[round((datum.value + 1) / 32)]"
time_axis = alt.Axis(values=time_tick_bars, labelExpr=label_expr, labelAlign="left", title=None,
                     tickSize=3, labelPadding=1, labelFontSize=9.5, labelFlush=False,
                     labelOverlap=False, grid=False, labelBound=False)
RX = alt.X("bar:Q", scale=xs, axis=time_axis)
RY = alt.Y("rsi:Q", scale=rs, axis=rsi_axis)

rl = []
rl.append(alt.Chart(pd.DataFrame({"rsi": rsi_levels})).mark_rule(
    color="#c4c4c4", strokeWidth=1, strokeDash=[3, 3]).encode(y=RY))
ELL2 = "M -1 0 A 1 0.45 0 1 0 1 0 A 1 0.45 0 1 0 -1 0 Z"
rl.append(alt.Chart(pd.DataFrame({"bar": rsi_peak_bars, "rsi": rsi_peak_values})).mark_point(
    shape=ELL2, size=1444, filled=True, color="#2f4f4f", opacity=1, strokeWidth=0).encode(x=RX, y=RY))
rl.append(alt.Chart(rsi_df).mark_line(color=ORANGE, strokeWidth=1).encode(x=RX, y=RY))
rl.append(alt.Chart(pd.DataFrame({"t": [rsi_text]})).mark_text(
    font=FONT, fontSize=9.5, color="black", align="left", baseline="middle").encode(
    x=alt.value(5), y=alt.value(9), text="t:N"))
rsi = alt.layer(*rl).properties(width=W, height=H2)

chart = alt.vconcat(main, rsi, spacing=3).properties(
    background=BG, padding={"left": 0, "top": 0, "right": 2, "bottom": 0}
).configure_view(stroke="black", strokeWidth=1, fill=BG).configure_axis(
    labelFont=FONT, labelColor="black", tickColor="black", domainColor="black", domainWidth=1)

chart.save("out.html", embed_options={"renderer": "svg", "actions": False})
